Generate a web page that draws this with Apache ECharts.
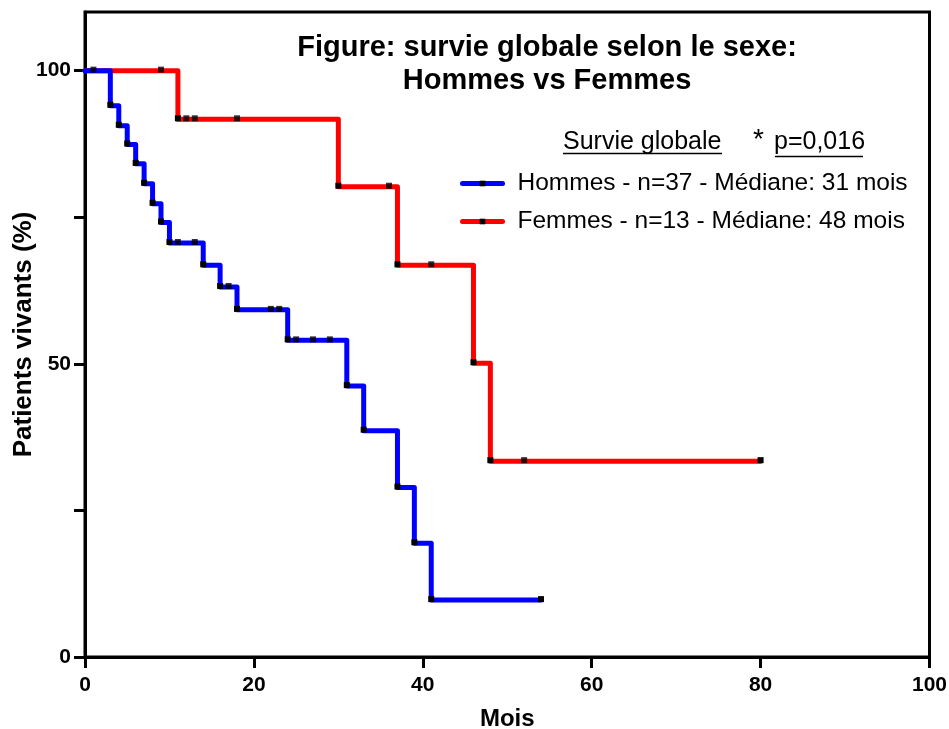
<!DOCTYPE html>
<html>
<head>
<meta charset="utf-8">
<script src="https://cdn.jsdelivr.net/npm/echarts@6/dist/echarts.min.js"></script>
<style>
  html, body { margin: 0; padding: 0; background: #fff; }
  #chart { width: 949px; height: 729px; }
</style>
</head>
<body>
<div id="chart"></div>
<script>
// Kaplan-Meier steps (mois, % vivants)
var hommesTemps = [0, 3, 4, 5, 6, 7, 8, 9, 10, 14, 16, 18, 24, 31, 33, 37, 39, 41, 54];
var hommesSurvie = [100, 94.0, 90.6, 87.4, 84.1, 80.7, 77.3, 74.1, 70.6, 66.8, 63.1, 59.2, 54.0, 46.2, 38.6, 28.9, 19.4, 9.7, 9.7];
var hommesCensTemps = [1, 11, 13, 17, 22, 23, 25, 27, 29];
var hommesCensSurvie = [100, 70.6, 70.6, 63.1, 59.2, 59.2, 54.0, 54.0, 54.0];

var femmesTemps = [0, 11, 30, 37, 46, 48, 80];
var femmesSurvie = [100, 91.7, 80.2, 66.8, 50.1, 33.4, 33.4];
var femmesCensTemps = [9, 12, 13, 18, 36, 41, 52];
var femmesCensSurvie = [100, 91.7, 91.7, 91.7, 80.2, 66.8, 33.4];

var xTicks = [0, 20, 40, 60, 80, 100];
var yTicks = [0, 25, 50, 75, 100];
var yLabels = [0, 50, 100];

var nomHommes = 'Hommes - n=37 - Médiane: 31 mois';
var nomFemmes = 'Femmes - n=13 - Médiane: 48 mois';

var font = 'Liberation Sans, Arial, sans-serif';

function steps(t, s) {
  var out = [];
  for (var i = 0; i < t.length; i++) {
    if (i == 0) out.push({ value: [t[i], s[i]], symbol: 'none' });
    else out.push([t[i], s[i]]);
  }
  return out;
}
function points(t, s) {
  var out = [];
  for (var i = 0; i < t.length; i++) out.push([t[i], s[i]]);
  return out;
}

var myChart = echarts.init(document.getElementById('chart'));
var option = {
  animation: false,
  backgroundColor: '#fff',
  title: {
    text: 'Figure: survie globale selon le sexe:\nHommes vs Femmes',
    left: 547,
    top: 31,
    padding: 0,
    textAlign: 'center',
    textStyle: { fontFamily: font, fontSize: 29, fontWeight: 'bold', color: '#000', lineHeight: 33 }
  },
  legend: {
    data: [nomHommes, nomFemmes],
    orient: 'vertical',
    left: 460,
    top: 171,
    padding: 0,
    itemWidth: 40,
    itemHeight: 7,
    itemGap: 13,
    selectedMode: false,
    lineStyle: { width: 5, cap: 'round' },
    textStyle: { fontFamily: font, fontSize: 24.5, color: '#000', lineHeight: 24, padding: [0, 0, 0, 10] }
  },
  grid: {
    left: 85, right: 19.5, top: 12, bottom: 72,
    outerBoundsMode: 'none',
    containLabel: false,
    show: true, borderColor: '#000', borderWidth: 3
  },
  xAxis: {
    type: 'value',
    min: 0, max: 100, interval: 20,
    name: 'Mois',
    nameLocation: 'middle',
    nameGap: 50,
    nameMoveOverlap: false,
    nameTextStyle: { fontFamily: font, fontSize: 24, fontWeight: 'bold', color: '#000' },
    axisLine: { lineStyle: { color: '#000', width: 3 } },
    axisTick: { length: 11, lineStyle: { color: '#000', width: 3 }, customValues: xTicks },
    axisLabel: { margin: 18, fontFamily: font, fontSize: 21, fontWeight: 'bold', color: '#000', customValues: xTicks },
    splitLine: { show: false }
  },
  yAxis: {
    type: 'value',
    min: 0, max: 110,
    name: 'Patients vivants (%)',
    nameLocation: 'middle',
    nameGap: 48,
    nameMoveOverlap: false,
    nameTextStyle: { fontFamily: font, fontSize: 26, fontWeight: 'bold', color: '#000' },
    axisLine: { show: true, lineStyle: { color: '#000', width: 3 } },
    axisTick: { show: true, length: 11, lineStyle: { color: '#000', width: 3 }, customValues: yTicks },
    axisLabel: { margin: 14, fontFamily: font, fontSize: 21, fontWeight: 'bold', color: '#000', customValues: yLabels },
    splitLine: { show: false }
  },
  series: [
    {
      name: nomFemmes,
      type: 'line',
      step: 'end',
      data: steps(femmesTemps, femmesSurvie),
      symbol: 'rect',
      symbolSize: 6,
      symbolOffset: [0, -1],
      itemStyle: { color: '#000' },
      lineStyle: { color: '#ff0000', width: 5, cap: 'round', join: 'round' },
      z: 2
    },
    {
      name: nomHommes,
      type: 'line',
      step: 'end',
      data: steps(hommesTemps, hommesSurvie),
      symbol: 'rect',
      symbolSize: 6,
      symbolOffset: [0, -1],
      itemStyle: { color: '#000' },
      lineStyle: { color: '#0000ff', width: 5, cap: 'round', join: 'round' },
      z: 3
    },
    {
      name: 'Femmes censurées',
      type: 'scatter',
      data: points(femmesCensTemps, femmesCensSurvie),
      symbol: 'rect',
      symbolSize: 6,
      symbolOffset: [0, -1],
      itemStyle: { color: '#000' },
      z: 4
    },
    {
      name: 'Hommes censurés',
      type: 'scatter',
      data: points(hommesCensTemps, hommesCensSurvie),
      symbol: 'rect',
      symbolSize: 6,
      symbolOffset: [0, -1],
      itemStyle: { color: '#000' },
      z: 4
    }
  ],
  graphic: [
    { type: 'text', left: 563, top: 130, style: { text: 'Survie globale', font: '25px ' + font, fill: '#000' } },
    { type: 'line', shape: { x1: 563, y1: 153.5, x2: 722, y2: 153.5 }, style: { stroke: '#000', lineWidth: 1.5 } },
    { type: 'text', left: 753, top: 126, style: { text: '*', font: '28px ' + font, fill: '#000' } },
    { type: 'text', left: 774, top: 130, style: { text: 'p=0,016', font: '25px ' + font, fill: '#000' } },
    { type: 'line', shape: { x1: 775, y1: 156.5, x2: 863, y2: 156.5 }, style: { stroke: '#000', lineWidth: 1.5 } }
  ]
};
myChart.setOption(option);
</script>
</body>
</html>
